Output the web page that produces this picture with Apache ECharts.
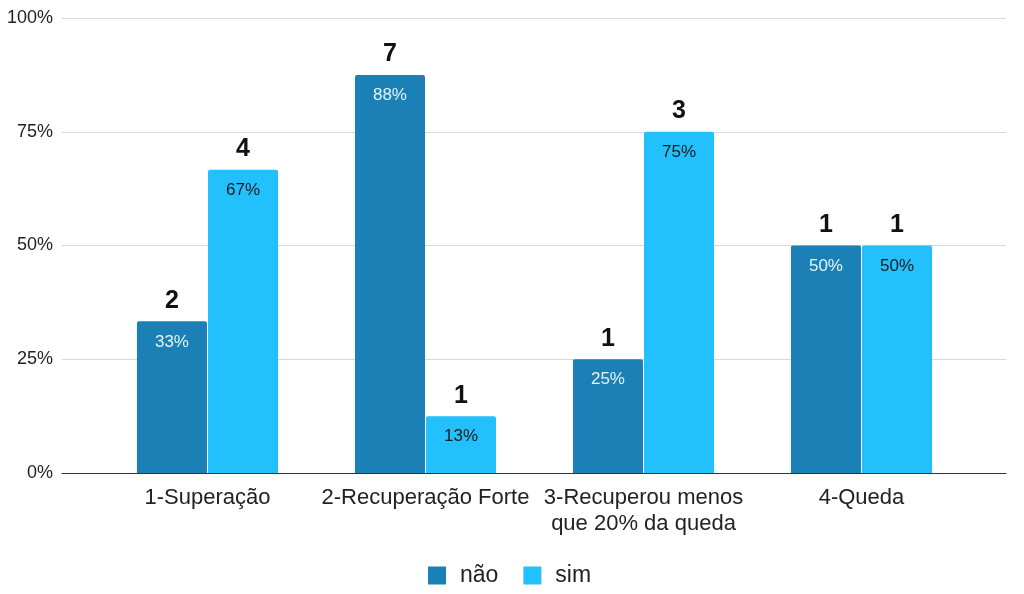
<!DOCTYPE html>
<html>
<head>
<meta charset="utf-8">
<script src="https://cdn.jsdelivr.net/npm/echarts@6/dist/echarts.min.js"></script>
<style>
  html, body { margin: 0; padding: 0; background: #fff; }
  #chart { width: 1024px; height: 594px; }
</style>
</head>
<body>
<div id="chart"></div>
<script>
const categories = ['1-Superação', '2-Recuperação Forte', '3-Recuperou menos\nque 20% da queda', '4-Queda']
const naoPct = [33.33, 87.5, 25, 50]
const simPct = [66.67, 12.5, 75, 50]
const naoCount = [2, 7, 1, 1]
const simCount = [4, 1, 3, 1]
const yTicks = [0, 25, 50, 75, 100]

const colorNao = '#1a80b6'
const colorSim = '#22c0fc'
const font = '"Liberation Sans", Arial, sans-serif'

function pctLabel (color) {
  return {
    show: true,
    position: 'insideTop',
    distance: 12,
    color,
    fontFamily: font,
    fontSize: 17,
    formatter: p => Math.round(p.value) + '%'
  }
}

// transparent copies of the bars, only there to carry the count above each bar
function countSeries (name, pct, counts) {
  return {
    name: name + '-count',
    type: 'bar',
    xAxisIndex: 2,
    yAxisIndex: 2,
    barWidth: 70,
    barGap: '1.5%',
    silent: true,
    itemStyle: { color: 'transparent' },
    label: {
      show: true,
      position: 'top',
      distance: 8,
      color: '#111',
      fontFamily: font,
      fontSize: 25,
      fontWeight: 'bold',
      formatter: p => counts[p.dataIndex]
    },
    data: pct
  }
}

const myChart = echarts.init(document.getElementById('chart'), null, { renderer: 'canvas' })

const option = {
  animation: false,
  textStyle: { fontFamily: font },
  legend: {
    top: 559,
    left: 423,
    itemWidth: 18,
    itemHeight: 18,
    itemGap: 25,
    icon: 'rect',
    data: ['não', 'sim'],
    textStyle: { fontSize: 23, color: '#222', fontFamily: font, padding: [0, 0, 0, 9] }
  },
  grid: [
    { left: 62, right: 18, top: 18, bottom: 121 },
    { left: 98.5, right: 53.5, top: 18, bottom: 121 }
  ],
  xAxis: [
    {
      gridIndex: 0, type: 'value', min: 0, max: 1, show: true,
      axisLine: { show: true, lineStyle: { color: '#333', width: 1 } },
      axisTick: { show: false }, axisLabel: { show: false }, splitLine: { show: false }
    },
    {
      gridIndex: 1, type: 'category', data: categories,
      axisLine: { show: false },
      axisTick: { show: false },
      axisLabel: { color: '#222', fontSize: 22, margin: 12, lineHeight: 26, fontFamily: font, interval: 0 }
    },
    {
      gridIndex: 1, type: 'category', data: categories, show: false
    }
  ],
  yAxis: [
    {
      gridIndex: 0, type: 'value', min: 0, max: 100, interval: 25,
      axisLine: { show: false }, axisTick: { show: false },
      axisLabel: {
        color: '#222', fontSize: 18, margin: 9, fontFamily: font,
        formatter: v => yTicks.includes(v) ? v + '%' : ''
      },
      splitLine: { lineStyle: { color: '#d9d9d9', width: 1 } }
    },
    { gridIndex: 1, type: 'value', min: 0, max: 100, show: false },
    { gridIndex: 1, type: 'value', min: 0, max: 100, show: false }
  ],
  series: [
    {
      name: 'não', type: 'bar', xAxisIndex: 1, yAxisIndex: 1,
      barWidth: 70, barGap: '1.5%',
      itemStyle: { color: colorNao, borderRadius: [2, 2, 0, 0] },
      label: pctLabel('#e6f3fa'),
      data: naoPct
    },
    {
      name: 'sim', type: 'bar', xAxisIndex: 1, yAxisIndex: 1,
      barWidth: 70, barGap: '1.5%',
      itemStyle: { color: colorSim, borderRadius: [2, 2, 0, 0] },
      label: pctLabel('#1a1a1a'),
      data: simPct
    },
    countSeries('não', naoPct, naoCount),
    countSeries('sim', simPct, simCount)
  ]
}

myChart.setOption(option)
window.addEventListener('resize', myChart.resize)
</script>
</body>
</html>
